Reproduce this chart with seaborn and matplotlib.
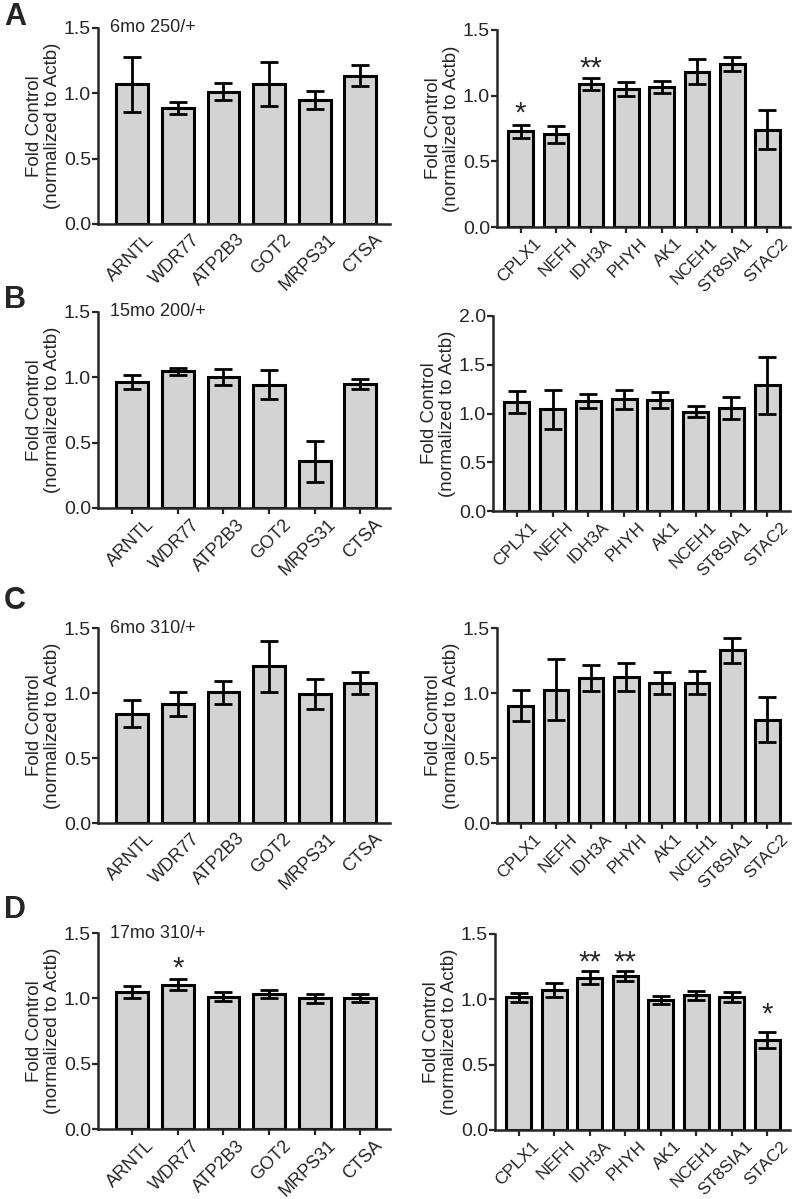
import matplotlib
matplotlib.use("Agg")
import matplotlib.pyplot as plt
import matplotlib.transforms as mtransforms
import seaborn as sns

sns.set_style("ticks")
plt.rcParams['font.family'] = ['Liberation Sans', 'DejaVu Sans']

# genes
genes_left = ['ARNTL', 'WDR77', 'ATP2B3', 'GOT2', 'MRPS31', 'CTSA']
genes_right = ['CPLX1', 'NEFH', 'IDH3A', 'PHYH', 'AK1', 'NCEH1', 'ST8SIA1', 'STAC2']

# A - 6mo 250/+
a_left_mean = [1.07, 0.887, 1.012, 1.07, 0.951, 1.135]
a_left_err = [0.21, 0.045, 0.065, 0.17, 0.07, 0.08]
a_right_mean = [0.73, 0.707, 1.091, 1.053, 1.068, 1.182, 1.238, 0.742]
a_right_err = [0.05, 0.065, 0.045, 0.053, 0.045, 0.095, 0.053, 0.15]
a_right_stars = [(0, 0.90, '*'), (2, 1.25, '**')]

# B - 15mo 200/+
b_left_mean = [0.964, 1.046, 1.0, 0.944, 0.357, 0.949]
b_left_err = [0.056, 0.025, 0.06, 0.11, 0.155, 0.04]
b_right_mean = [1.12, 1.045, 1.13, 1.144, 1.137, 1.02, 1.058, 1.288]
b_right_err = [0.11, 0.2, 0.075, 0.1, 0.08, 0.055, 0.11, 0.29]

# C - 6mo 310/+
c_left_mean = [0.841, 0.915, 1.005, 1.205, 0.99, 1.074]
c_left_err = [0.105, 0.09, 0.09, 0.195, 0.115, 0.085]
c_right_mean = [0.903, 1.026, 1.113, 1.12, 1.074, 1.08, 1.328, 0.795]
c_right_err = [0.12, 0.235, 0.1, 0.108, 0.085, 0.087, 0.097, 0.175]

# D - 17mo 310/+
d_left_mean = [1.048, 1.105, 1.013, 1.033, 1.0, 1.003]
d_left_err = [0.046, 0.04, 0.035, 0.03, 0.035, 0.03]
d_left_stars = [(1, 1.27, '*')]
d_right_mean = [1.015, 1.073, 1.165, 1.18, 0.997, 1.03, 1.017, 0.69]
d_right_err = [0.035, 0.055, 0.05, 0.04, 0.03, 0.036, 0.038, 0.06]
d_right_stars = [(2, 1.32, '**'), (3, 1.32, '**'), (7, 0.92, '*')]

W, H = 792, 1199
fig = plt.figure(figsize=(W / 100, H / 100), dpi=100)


def make_axes(x0, x1, ytop, ybot):
    return fig.add_axes([x0 / W, 1 - ybot / H, (x1 - x0) / W, (ybot - ytop) / H])


def panel(ax, genes, means, errs, ymax, xlim, xticks=True, note=None, stars=(), xsize=13):
    sns.barplot(x=genes, y=means, ax=ax, color='#d3d3d3', edgecolor='black',
                linewidth=2.2, width=0.7, saturation=1)
    ax.errorbar(range(len(genes)), means, yerr=errs, fmt='none', ecolor='black',
                elinewidth=2, capsize=6.5, capthick=2, zorder=5)
    ax.set_ylim(0, ymax)
    ax.set_xlim(*xlim)
    n = int(round(ymax / 0.5)) + 1
    ax.set_yticks([i * 0.5 for i in range(n)])
    ax.set_yticklabels(['%.1f' % (i * 0.5) for i in range(n)])
    ax.set_ylabel('Fold Control\n(normalized to Actb)', fontsize=13.5, linespacing=1.1, labelpad=2)
    ax.set_xlabel('')
    for s in ['top', 'right']:
        ax.spines[s].set_visible(False)
    for s in ['left', 'bottom']:
        ax.spines[s].set_linewidth(1.8)
    ax.tick_params(axis='y', labelsize=14, width=1.6, length=4, pad=1)
    if xticks:
        ax.tick_params(axis='x', labelsize=xsize, width=1.6, length=4, pad=2)
    else:
        ax.tick_params(axis='x', labelsize=xsize, width=1.6, length=0, pad=5)
    shift = mtransforms.ScaledTranslation(0.13, 0, fig.dpi_scale_trans)
    for lab in ax.get_xticklabels():
        lab.set_rotation(45)
        lab.set_ha('right')
        lab.set_va('top')
        lab.set_rotation_mode('anchor')
        lab.set_transform(lab.get_transform() + shift)
    if note:
        ax.text(0.04, 1.0, note, transform=ax.transAxes, fontsize=13, va='center', ha='left')
    for i, y, s in stars:
        ax.text(i, y - 0.04, s, fontsize=21, ha='center', va='center')


xl_left = (-0.75, 5.65)
xl_right = (-0.67, 7.64)

axA1 = make_axes(98, 390, 28, 224)
panel(axA1, genes_left, a_left_mean, a_left_err, 1.5, xl_left, xticks=False, note='6mo 250/+')
axA2 = make_axes(497, 790, 30, 227)
panel(axA2, genes_right, a_right_mean, a_right_err, 1.5, xl_right, stars=a_right_stars, xsize=12.5)

axB1 = make_axes(98, 390, 312, 508)
panel(axB1, genes_left, b_left_mean, b_left_err, 1.5, xl_left, note='15mo 200/+')
axB2 = make_axes(493, 790, 316, 511)
panel(axB2, genes_right, b_right_mean, b_right_err, 2.0, xl_right, xsize=12.5)

axC1 = make_axes(98, 390, 628, 823)
panel(axC1, genes_left, c_left_mean, c_left_err, 1.5, xl_left, xticks=False, note='6mo 310/+')
axC2 = make_axes(497, 790, 628, 823)
panel(axC2, genes_right, c_right_mean, c_right_err, 1.5, xl_right, xsize=12.5)

axD1 = make_axes(98, 390, 933, 1129)
panel(axD1, genes_left, d_left_mean, d_left_err, 1.5, xl_left, note='17mo 310/+', stars=d_left_stars)
axD2 = make_axes(495, 790, 934, 1130)
panel(axD2, genes_right, d_right_mean, d_right_err, 1.5, xl_right, stars=d_right_stars, xsize=12.5)

for letter, ypix in [('A', 17), ('B', 300), ('C', 601), ('D', 910)]:
    fig.text(4 / W, 1 - ypix / H, letter, fontsize=22, fontweight='bold', va='center', ha='left')

fig.savefig('out.png', dpi=100, facecolor='white')
